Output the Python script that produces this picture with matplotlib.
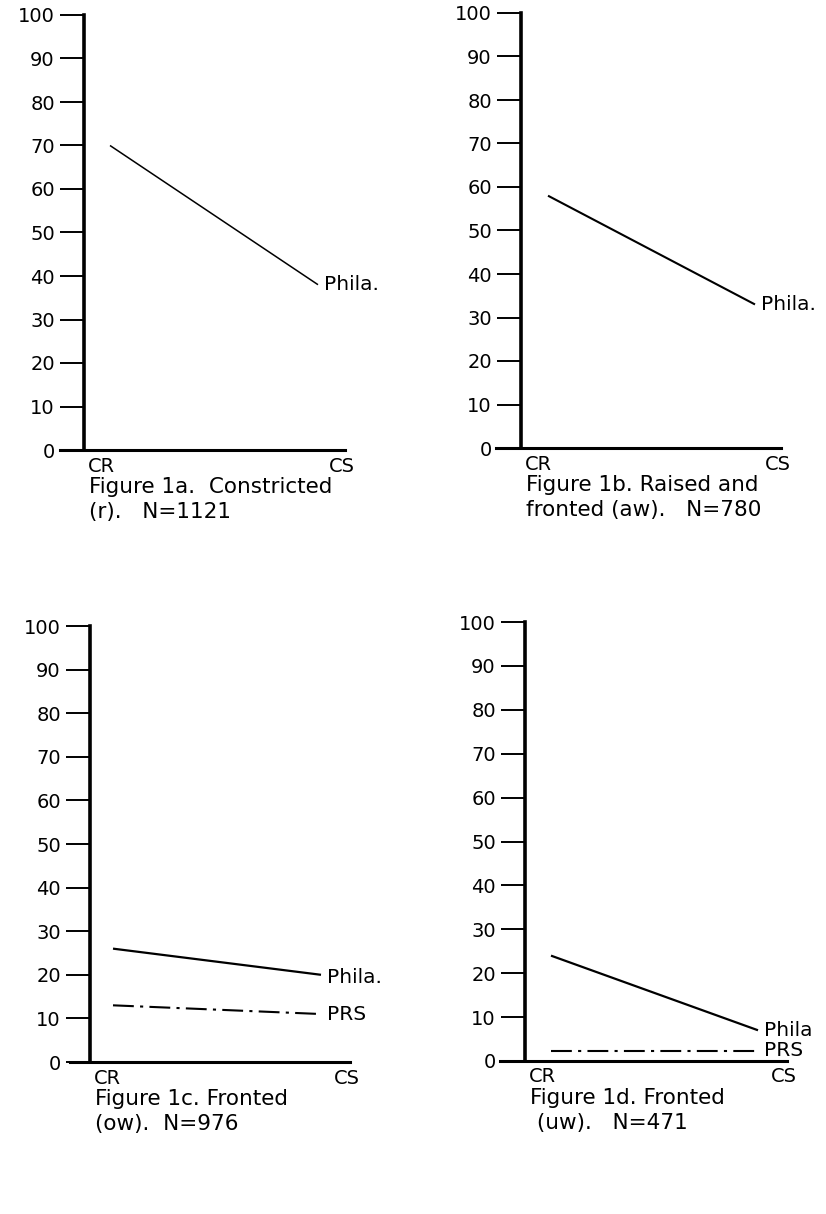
import matplotlib.pyplot as plt

W, H = 826, 1214

# valores (porcentaje)
x_labels = ["CR", "CS"]
yticks = [0, 10, 20, 30, 40, 50, 60, 70, 80, 90, 100]

phila_a = [70, 38]
phila_b = [58, 33]
phila_c = [26, 20]
prs_c = [13, 11]
phila_d = [24, 7]
prs_d = [2.3, 2.3]

captions = [
    ["Figure 1a.  Constricted", "(r).   N=1121"],
    ["Figure 1b. Raised and", "fronted (aw).   N=780"],
    ["Figure 1c. Fronted", "(ow).  N=976"],
    ["Figure 1d. Fronted", " (uw).   N=471"],
]

# disposicion en pixeles: borde izq, der, arriba (100), abajo (0), eje y, CR, CS
layout = [
    dict(l=60, r=345, t=15, b=450, yax=84, cr=110, cs=318),
    dict(l=496, r=781, t=13, b=448, yax=521, cr=548, cs=755),
    dict(l=70, r=350, t=626, b=1062, yax=90, cr=113, cs=321),
    dict(l=500, r=787, t=622, b=1061, yax=525, cr=551, cs=758),
]

series = [
    [("Phila.", phila_a, "-", 1.1, 0)],
    [("Phila.", phila_b, "-", 1.5, 0)],
    [("Phila.", phila_c, "-", 1.6, -3), ("PRS", prs_c, (0, (10, 3, 1.5, 3)), 1.5, 0)],
    [("Phila", phila_d, "-", 1.6, 0), ("PRS", prs_d, (0, (10, 3, 1.5, 3)), 1.5, 0)],
]

fs = 14
fig = plt.figure(figsize=(W / 100, H / 100), dpi=100)

for lay, ser, cap in zip(layout, series, captions):
    ax = fig.add_axes([lay["l"] / W, 1 - lay["b"] / H,
                       (lay["r"] - lay["l"]) / W, (lay["b"] - lay["t"]) / H])
    escala = lay["cs"] - lay["cr"]
    ax.set_xlim((lay["l"] - lay["cr"]) / escala, (lay["r"] - lay["cr"]) / escala)
    ax.set_ylim(0, 100)

    for nombre, vals, ls, lw, dy in ser:
        ax.plot([0, 1], vals, color="black", lw=lw, linestyle=ls,
                solid_capstyle="butt")
        ax.annotate(nombre, xy=(1, vals[-1]), xytext=(6, dy),
                    textcoords="offset pixels", va="center", ha="left",
                    fontsize=fs + 0.5, color="black")

    # ejes
    for s in ["top", "right"]:
        ax.spines[s].set_visible(False)
    ax.spines["left"].set_position(("axes", (lay["yax"] - lay["l"]) / (lay["r"] - lay["l"])))
    ax.spines["left"].set_linewidth(2.6)
    ax.spines["bottom"].set_linewidth(2.2)
    ax.set_yticks(yticks)
    ax.tick_params(axis="y", length=17, width=1.4, pad=4, labelsize=fs)
    ax.set_xticks([])

    # etiquetas CR / CS
    ycr = lay["b"] + 16
    fig.text((lay["yax"] + 4) / W, 1 - ycr / H, x_labels[0], fontsize=fs,
             va="center", ha="left")
    fig.text((lay["r"] + 10) / W, 1 - ycr / H, x_labels[1], fontsize=fs,
             va="center", ha="right")

    # pie de figura
    for i, linea in enumerate(cap):
        fig.text((lay["yax"] + 5) / W, 1 - (lay["b"] + 37 + 25 * i) / H, linea,
                 fontsize=fs + 1.5, va="center", ha="left")

fig.savefig("out.png", dpi=100)
